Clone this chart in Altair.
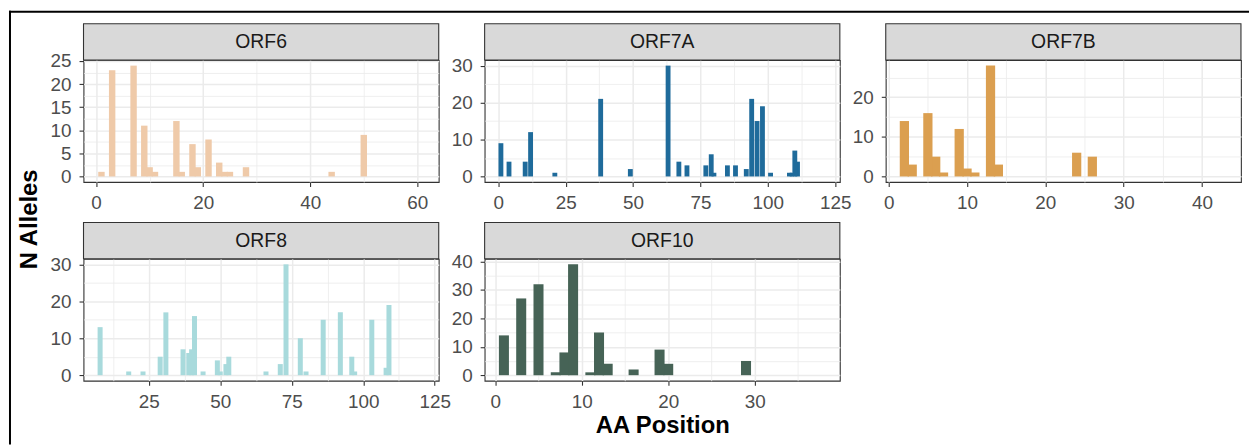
import altair as alt
import pandas as pd

FONT = "Liberation Sans"

# ---------------- data ----------------
genes = ["ORF6", "ORF7A", "ORF7B", "ORF8", "ORF10"]

orf6_pos = [1, 3, 7, 9, 10, 11, 15, 16, 18, 19, 21, 23, 24, 25, 28, 44, 50]
orf6_n = [1, 23, 24, 11, 2, 1, 12, 1, 7, 2, 8, 3, 1, 1, 2, 1, 9]

orf7a_pos = [1, 4, 10, 12, 21, 38, 49, 63, 67, 70, 77, 79, 80, 85, 88, 92, 94, 96,
             98, 101, 108, 109, 110, 111]
orf7a_n = [9, 4, 4, 12, 1, 21, 2, 30, 4, 3, 3, 6, 1, 3, 3, 2, 21, 15,
           19, 1, 1, 1, 7, 4]

orf7b_pos = [2, 3, 5, 6, 7, 9, 10, 11, 13, 14, 24, 26]
orf7b_n = [14, 3, 16, 5, 1, 12, 2, 1, 28, 3, 6, 5]

orf8_pos = [8, 18, 23, 29, 31, 37, 39, 40, 41, 44, 49, 50, 52, 53, 66, 71, 73, 78,
            80, 86, 92, 96, 97, 103, 108, 109]
orf8_n = [13, 1, 1, 5, 17, 7, 6, 7, 16, 1, 4, 1, 3, 5, 1, 3, 30, 10,
          1, 15, 17, 5, 1, 15, 2, 19]

orf10_pos = [1, 3, 5, 7, 8, 9, 11, 12, 13, 16, 19, 20, 29]
orf10_n = [14, 27, 32, 1, 8, 39, 1, 15, 4, 2, 9, 4, 5]

# axis tick labels per panel
orf6_xt, orf6_yt = [0, 20, 40, 60], [0, 5, 10, 15, 20, 25]
orf7a_xt, orf7a_yt = [0, 25, 50, 75, 100, 125], [0, 10, 20, 30]
orf7b_xt, orf7b_yt = [0, 10, 20, 30, 40], [0, 10, 20]
orf8_xt, orf8_yt = [25, 50, 75, 100, 125], [0, 10, 20, 30]
orf10_xt, orf10_yt = [0, 10, 20, 30], [0, 10, 20, 30, 40]

# ---------------- styling ----------------
W, H = 357.5, 122.7
STRIP_H = 36.6
GRID = "#EBEBEB"
LABEL_COL = "#4D4D4D"
DARK = "#333333"


def minors(majors, lo, hi):
    step = majors[1] - majors[0]
    ext = [majors[0] - step] + list(majors) + [majors[-1] + step]
    mids = [(a + b) / 2 for a, b in zip(ext, ext[1:])]
    return [m for m in mids if lo <= m <= hi]


def make_axis(majors, dom, padding, title=None):
    allv = sorted(set(majors) | set(minors(majors, *dom)))
    arr = "[" + ",".join(str(v) for v in majors) + "]"
    test = f"indexof({arr}, datum.value) >= 0"
    kw = dict(
        values=allv,
        labelExpr=f"{test} ? datum.label : ''",
        domain=False,
        grid=True,
        gridColor=GRID,
        gridWidth={"condition": {"test": test, "value": 1.5}, "value": 0.8},
        tickColor=DARK,
        tickWidth=1.1,
        tickSize=4.5,
        tickOpacity={"condition": {"test": test, "value": 1}, "value": 0},
        labelFont=FONT,
        labelFontSize=19,
        labelColor=LABEL_COL,
        labelOverlap=False,
        labelFlush=False,
        labelPadding=padding,
    )
    if title:
        return alt.Axis(title=title, titleFont=FONT, titleFontSize=24,
                        titleFontWeight="bold", titleColor="black",
                        titlePadding=3, **kw)
    return alt.Axis(title=None, **kw)


def panel(gene, pos, n, bar_w, color, xdom, ydom, xt, yt, xtitle=None, extra=()):
    df = pd.DataFrame({"pos": pos, "n": n}).sort_values("n", kind="stable")
    xs = alt.Scale(domain=xdom, nice=False, zero=False)
    ys = alt.Scale(domain=ydom, nice=False, zero=False)
    hw = bar_w / 2
    bars = (
        alt.Chart(df)
        .transform_calculate(x0=f"datum.pos - {hw}", x1=f"datum.pos + {hw}")
        .mark_rect(color=color)
        .encode(
            x=alt.X("x0:Q", scale=xs, axis=make_axis(xt, xdom, 7, xtitle)),
            x2="x1:Q",
            y=alt.Y("n:Q", scale=ys, axis=make_axis(yt, ydom, 8)),
            y2=alt.datum(0),
        )
    )
    lab = pd.DataFrame({"label": [gene]})
    strip = (
        alt.Chart(lab)
        .mark_rect(fill="#D9D9D9", stroke=DARK, strokeWidth=1.1)
        .encode(x=alt.value(0), x2=alt.value(W), y=alt.value(-STRIP_H), y2=alt.value(0))
    )
    stext = (
        alt.Chart(lab)
        .mark_text(font=FONT, fontSize=19.5, color="#1A1A1A", align="center", baseline="middle")
        .encode(x=alt.value(W / 2), y=alt.value(-STRIP_H / 2), text="label:N")
    )
    return alt.layer(bars, strip, stext, *extra).properties(width=W, height=H)


one = pd.DataFrame({"k": [0]})
border_top = (
    alt.Chart(one)
    .mark_rule(color="black", strokeWidth=2, strokeCap="square")
    .encode(x=alt.value(-74), x2=alt.value(1172), y=alt.value(-48.7))
)
border_left = (
    alt.Chart(one)
    .mark_rule(color="black", strokeWidth=2, strokeCap="square")
    .encode(x=alt.value(-74), y=alt.value(-48.7), y2=alt.value(386))
)
ytitle = (
    alt.Chart(one)
    .mark_text(text="N Alleles", angle=270, font=FONT, fontSize=24, fontWeight="bold",
               color="black", align="center", baseline="middle")
    .encode(x=alt.value(-53.5), y=alt.value(160.3))
)

p6 = panel("ORF6", orf6_pos, orf6_n, 1.2, "#EFCAA9", [-2.35, 64.0], [-1.2, 25.2],
           orf6_xt, orf6_yt, extra=(border_top, border_left, ytitle))
p7a = panel("ORF7A", orf7a_pos, orf7a_n, 1.8, "#1F6B9B", [-5.04, 126.7], [-1.5, 31.5],
            orf7a_xt, orf7a_yt)
p7b = panel("ORF7B", orf7b_pos, orf7b_n, 1.18, "#DB9F50", [-0.38, 44.98], [-1.4, 29.4],
            orf7b_xt, orf7b_yt)
p8 = panel("ORF8", orf8_pos, orf8_n, 1.75, "#A8DADC", [2.2, 126.4], [-1.5, 31.5],
           orf8_xt, orf8_yt)
p10 = panel("ORF10", orf10_pos, orf10_n, 1.16, "#466356", [-1.23, 39.85], [-1.95, 40.95],
            orf10_xt, orf10_yt, xtitle="AA Position")

chart = (
    alt.concat(p6, p7a, p7b, p8, p10, columns=3,
               spacing={"row": 77, "column": 45.7}, bounds="flush")
    .properties(padding=0, background="white")
    .configure_view(stroke=DARK, strokeWidth=1.1, fill="white")
)

chart.save("out.html", embed_options={"renderer": "svg", "actions": False})
